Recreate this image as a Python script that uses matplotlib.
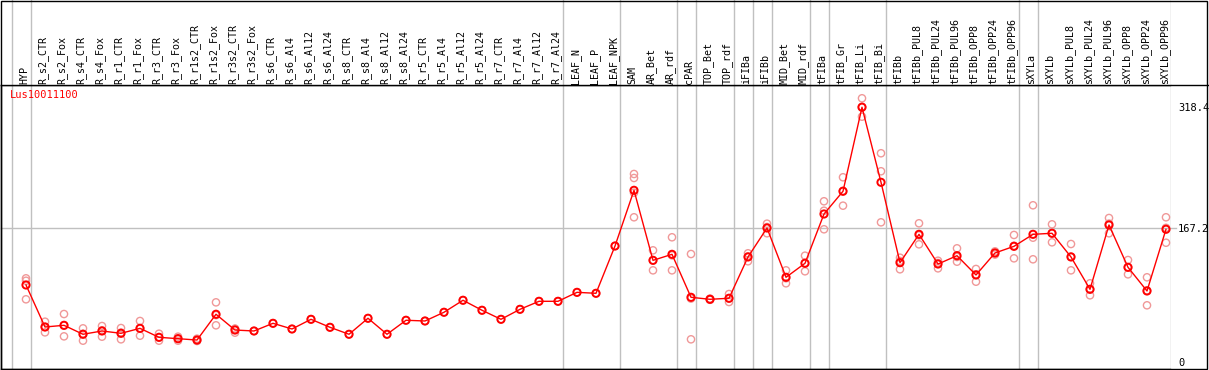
import numpy as np
import matplotlib.pyplot as plt
from matplotlib.patches import Rectangle

# sample labels (left to right)
samples = ["HYP", "R_s2_CTR", "R_s2_Fox", "R_s4_CTR", "R_s4_Fox", "R_r1_CTR", "R_r1_Fox",
           "R_r3_CTR", "R_r3_Fox", "R_r1s2_CTR", "R_r1s2_Fox", "R_r3s2_CTR", "R_r3s2_Fox",
           "R_s6_CTR", "R_s6_Al4", "R_s6_Al12", "R_s6_Al24", "R_s8_CTR", "R_s8_Al4",
           "R_s8_Al12", "R_s8_Al24", "R_r5_CTR", "R_r5_Al4", "R_r5_Al12", "R_r5_Al24",
           "R_r7_CTR", "R_r7_Al4", "R_r7_Al12", "R_r7_Al24", "LEAF_N", "LEAF_P", "LEAF_NPK",
           "SAM", "AR_Bet", "AR_rdf", "cPAR", "TOP_Bet", "TOP_rdf", "iFIBa", "iFIBb",
           "MID_Bet", "MID_rdf", "tFIBa", "tFIB_Gr", "tFIB_Li", "tFIB_Bi", "tFIBb",
           "tFIBb_PUL8", "tFIBb_PUL24", "tFIBb_PUL96", "tFIBb_OPP8", "tFIBb_OPP24",
           "tFIBb_OPP96", "sXYLa", "sXYLb", "sXYLb_PUL8", "sXYLb_PUL24", "sXYLb_PUL96",
           "sXYLb_OPP8", "sXYLb_OPP24", "sXYLb_OPP96"]

# mean expression per sample
means = [96.0, 43.5, 45.6, 34.4, 38.5, 35.6, 41.8, 30.6, 28.9, 27.2, 59.4, 39.7, 38.5,
         48.1, 41.0, 53.1, 43.1, 34.4, 54.4, 34.4, 51.9, 51.0, 61.9, 76.9, 64.4,
         53.1, 65.6, 75.6, 75.6, 86.8, 85.6, 144.7,
         214.3, 126.8, 134.3, 80.6, 78.1, 79.4, 131.0, 167.2,
         105.6, 123.1, 184.7, 213.1, 318.1, 224.3, 123.9,
         159.3, 122.2, 132.6, 108.5, 136.0, 144.3,
         159.3, 160.6, 131.0, 90.6, 171.0, 118.1, 88.5, 165.6]

# individual replicates
replicates = [[104.3, 101.3, 78.1], [50.1, 36.8, 43.5], [59.7, 31.8, 45.3], [41.8, 26.4, 35.0],
              [44.7, 31.4, 39.4], [42.2, 28.1, 36.5], [51.0, 32.6, 41.8], [35.1, 26.4, 30.3],
              [31.4, 26.4, 28.9], [28.9, 26.0, 26.7], [74.3, 45.6, 58.3], [41.4, 36.4, 41.3],
              [38.5], [48.1], [41.0], [53.1], [43.1], [34.4], [54.4], [34.4], [51.9], [51.0],
              [61.9], [76.9], [64.4], [53.1], [65.6], [75.6], [75.6], [86.8], [85.6], [144.7],
              [234.7, 229.7, 211.3, 180.6], [139.3, 114.3, 126.8], [155.6, 114.3, 133.0],
              [134.7, 28.1, 79.0], [79.0, 77.5, 78.0], [84.7, 74.7, 79.0],
              [135.6, 125.6, 131.8], [172.6, 160.6, 168.4], [114.3, 98.1, 104.4],
              [132.6, 113.1, 123.6], [200.6, 188.8, 165.6], [230.6, 195.1, 213.6],
              [329.3, 306.3, 318.7], [260.6, 238.1, 174.3], [130.1, 115.6, 126.0],
              [173.1, 146.8, 158.0], [126.3, 116.8, 123.5], [141.8, 125.1, 131.0],
              [116.0, 100.1, 109.4], [138.0, 134.0, 136.0], [158.5, 129.3, 145.0],
              [195.6, 155.1, 128.1], [171.8, 149.3, 160.7], [147.2, 114.3, 131.5],
              [98.1, 83.1, 90.6], [179.7, 160.6, 172.7], [127.2, 109.3, 117.8],
              [105.6, 70.6, 89.3], [180.6, 148.8, 167.4]]

# a separator is drawn after each of these samples
group_ends = ["HYP", "R_r7_Al24", "LEAF_NPK", "AR_rdf", "cPAR", "TOP_rdf", "iFIBa", "iFIBb",
              "MID_rdf", "tFIBa", "tFIB_Bi", "tFIBb_OPP96", "sXYLa", "sXYLb_OPP96"]

gene = "Lus10011100"
y_ticks = [0, 167.2, 318.4]

W, H = 1209, 370
fig = plt.figure(figsize=(W / 100, H / 100), dpi=100)
mono = "DejaVu Sans Mono"
grey = "#c0c0c0"

x0, x1 = -25 / 19, 1144.5 / 19
ax = fig.add_axes([1 / W, 1 / H, 1169.5 / W, 284 / H])
ax.set_xlim(x0, x1)
ax.set_ylim(-9.0, 345.9)
ax.set_xticks([])
ax.set_yticks([])
for s in ["left", "bottom", "top"]:
    ax.spines[s].set_color("black")
    ax.spines[s].set_linewidth(1)
ax.spines["right"].set_visible(False)

lab = fig.add_axes([1 / W, 285 / H, 1169.5 / W, 85 / H])
lab.set_xlim(x0, x1)
lab.set_ylim(0, 85)
lab.set_xticks([])
lab.set_yticks([])
for s in lab.spines.values():
    s.set_visible(False)

x = np.arange(len(samples))

# group separators
seps = [-1] + [samples.index(g) for g in group_ends]
for i in seps:
    for a in (ax, lab):
        a.axvline(i + 0.24, color=grey, lw=1, zorder=0)

ax.axhline(167.2, color=grey, lw=1, zorder=0, xmax=1.005, clip_on=False)

for i, reps in enumerate(replicates):
    ax.scatter([i] * len(reps), reps, s=27, facecolors="none", edgecolors="#f09898",
               linewidths=1, zorder=2)

ax.plot(x, means, color="red", lw=1, zorder=3)
ax.scatter(x, means, s=27, facecolors="none", edgecolors="red", linewidths=1.4, zorder=4)

for i, name in enumerate(samples):
    lab.text(i - 0.1, 1.5, name, rotation=90, ha="center", va="bottom",
             fontsize=7.2, family=mono)

ax.text(0.008, 0.965, gene, transform=ax.transAxes, color="red", fontsize=7.5,
        family=mono, va="center", ha="left")

for v in y_ticks:
    fig.text(1178 / W, 1 - (361.8 - v * 0.8002 + 1) / H, f"{v:g}", fontsize=7.5,
             family=mono, va="center", ha="left")

# outer frame and the right-axis divider
fig.add_artist(Rectangle((1 / W, 1 / H), 1206 / W, 368.5 / H, transform=fig.transFigure,
                         fill=False, edgecolor="black", lw=1))
fig.add_artist(plt.Line2D([1 / W, 1208 / W], [285 / H, 285 / H], color="black", lw=1,
                          transform=fig.transFigure))

fig.savefig("out.png", dpi=100)
